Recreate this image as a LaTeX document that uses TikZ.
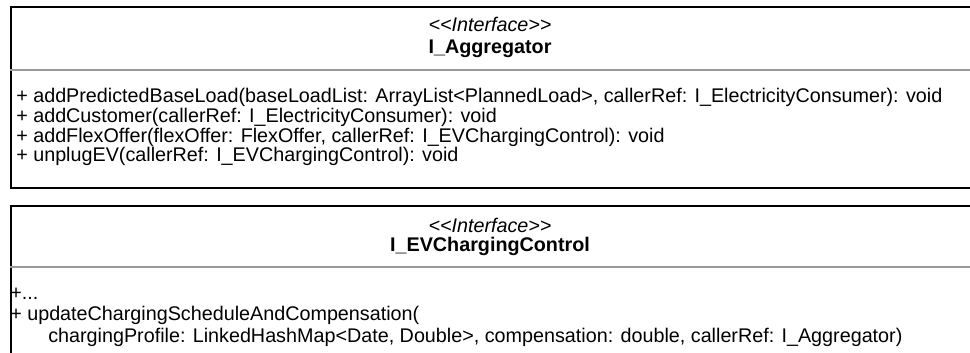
\documentclass[tikz,border=0pt]{standalone}
\usepackage{fontspec}
\setmainfont{Liberation Sans}
\usepackage{tikz}
\usetikzlibrary{positioning}
\newcommand{\bordercolor}{black}
\newcommand{\dividercolor}{black!40}
\newcommand{\umlstereo}[1]{<\kern0pt<#1>\kern0pt>}
\begin{document}
\begin{tikzpicture}[
      % GLOBAL CFG
      font=\fontsize{14.05}{16}\selectfont,
      % Styles
      classbox/.style={% For the interface boxes
        rectangle,
        draw=\bordercolor,
        line width=1.4pt,
        anchor=north west,
        minimum width=24.3cm,
        inner sep=0pt
      },
      divider/.style={% Line under the header
        draw=\dividercolor,
        line width=1.1pt
      },
      stereo/.style={% <<Interface>>
        anchor=base,
        inner sep=0pt,
        font=\fontsize{14.05}{16}\selectfont\itshape
      },
      classname/.style={
        anchor=base,
        inner sep=0pt,
        font=\fontsize{14.05}{16}\selectfont\bfseries
      },
      method/.style={% One line of the operations
        anchor=base west,
        inner sep=0pt
      }
      ]
      \useasboundingbox (0,0) rectangle (24.25,-8.8);

      % First interface
      \node [classbox, minimum height=4.525cm] (aggregator) at (0.26,-0.15) {};
      \draw [divider] ([yshift=-1.6cm]aggregator.north west) -- ([yshift=-1.6cm]aggregator.north east);
      \node [stereo] (stereotype1) at (12.25,-0.775) {\umlstereo{Interface}};
      \node [classname] (name1) at (12.25,-1.325) {I\_Aggregator};

      \node [method] (method1) at (0.4,-2.57) {+ addPredictedBaseLoad(baseLoadList: ArrayList<PlannedLoad>, callerRef: I\_ElectricityConsumer): void};
      \node [method] (method2) at (0.4,-3.06) {+ addCustomer(callerRef: I\_ElectricityConsumer): void};
      \node [method] (method3) at (0.4,-3.55) {+ addFlexOffer(flexOffer: FlexOffer, callerRef: I\_EVChargingControl): void};
      \node [method] (method4) at (0.4,-4.04) {+ unplugEV(callerRef: I\_EVChargingControl): void};


      % Second interface
      \node [classbox, minimum height=4cm] (chargingcontrol) at (0.26,-5.125) {};
      \draw [divider] ([yshift=-1.55cm]chargingcontrol.north west) -- ([yshift=-1.55cm]chargingcontrol.north east);
      \node [stereo] (stereotype2) at (12.25,-5.8) {\umlstereo{Interface}};
      \node [classname] (name2) at (12.25,-6.275) {I\_EVChargingControl};

      \node [method] (method5) at (0.25,-7.475) {+...};
      \node [method] (method6) at (0.25,-8.0) {+ updateChargingScheduleAndCompensation(};
      \node [method] (method7) at (1.2,-8.55) {chargingProfile: LinkedHashMap<Date, Double>, compensation: double, callerRef: I\_Aggregator)};

    \end{tikzpicture}
\end{document}
